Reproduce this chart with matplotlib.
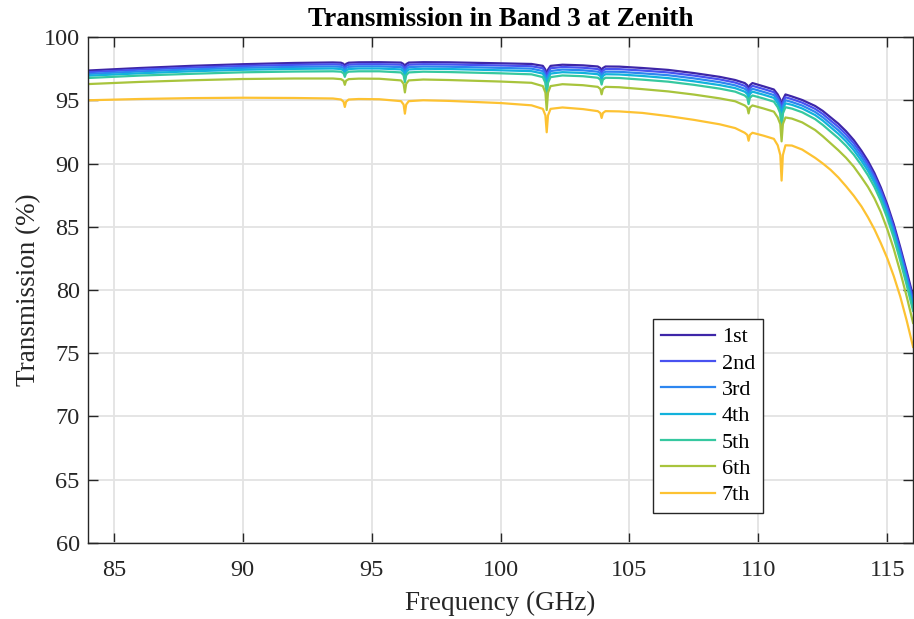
import numpy as np
import matplotlib
matplotlib.use("Agg")
import matplotlib.pyplot as plt

# frequency grid (GHz), denser around the absorption lines and the band edge
freq = [84.0, 86.0, 88.0, 90.0, 92.0, 93.5,
        93.81, 93.91, 93.96, 94.01, 94.11,
        94.5, 95.3,
        96.14, 96.24, 96.29, 96.34, 96.44,
        97.0, 98.0, 100.0, 101.2,
        101.64, 101.74, 101.79, 101.84, 101.94,
        102.4, 103.2,
        103.77, 103.87, 103.92, 103.97, 104.07,
        104.6, 105.5, 106.5, 107.5, 108.5, 109.1,
        109.47, 109.57, 109.62, 109.67, 109.77,
        110.2, 110.6,
        110.75, 110.85, 110.9, 110.95, 111.05,
        111.3, 111.7,
        112.2, 112.5, 112.8, 113.1, 113.4, 113.7, 114.0, 114.25,
        114.5, 114.75, 115.0, 115.25, 115.5, 115.75, 116.0]

t1 = [97.35, 97.55, 97.72, 97.85, 97.95, 97.99,
      97.97, 97.88, 97.65, 97.88, 97.97,
      98.00, 98.01,
      97.98, 97.86, 97.57, 97.86, 97.98,
      98.01, 98.00, 97.92, 97.87,
      97.72, 97.42, 96.64, 97.42, 97.72,
      97.81, 97.76,
      97.67, 97.55, 97.26, 97.55, 97.67,
      97.66, 97.55, 97.40, 97.15, 96.85, 96.60,
      96.36, 96.19, 95.77, 96.19, 96.36,
      96.10, 95.85,
      95.46, 95.06, 94.02, 95.06, 95.46,
      95.30, 95.02,
      94.55, 94.15, 93.65, 93.15, 92.55, 91.85, 91.00, 90.20,
      89.25, 88.10, 86.75, 85.20, 83.40, 81.50, 79.50]

t2 = [97.22, 97.42, 97.58, 97.71, 97.80, 97.84,
      97.81, 97.72, 97.47, 97.72, 97.81,
      97.85, 97.85,
      97.81, 97.67, 97.31, 97.67, 97.81,
      97.85, 97.83, 97.75, 97.69,
      97.53, 97.19, 96.31, 97.19, 97.53,
      97.63, 97.57,
      97.47, 97.35, 97.02, 97.35, 97.47,
      97.46, 97.35, 97.20, 96.95, 96.65, 96.40,
      96.14, 95.97, 95.53, 95.97, 96.14,
      95.89, 95.64,
      95.24, 94.82, 93.71, 94.82, 95.24,
      95.09, 94.81,
      94.32, 93.91, 93.40, 92.90, 92.30, 91.60, 90.75, 89.95,
      89.01, 87.87, 86.52, 84.97, 83.17, 81.26, 79.25]

t3 = [97.08, 97.28, 97.44, 97.56, 97.64, 97.67,
      97.64, 97.54, 97.28, 97.54, 97.64,
      97.68, 97.68,
      97.62, 97.45, 97.03, 97.45, 97.62,
      97.67, 97.65, 97.56, 97.50,
      97.31, 96.94, 95.96, 96.94, 97.31,
      97.43, 97.37,
      97.26, 97.13, 96.79, 97.13, 97.26,
      97.25, 97.13, 96.98, 96.73, 96.43, 96.18,
      95.91, 95.74, 95.28, 95.74, 95.91,
      95.66, 95.41,
      95.00, 94.55, 93.38, 94.55, 95.00,
      94.86, 94.58,
      94.08, 93.65, 93.14, 92.63, 92.03, 91.33, 90.48, 89.69,
      88.75, 87.61, 86.26, 84.71, 82.91, 81.00, 78.98]

t4 = [96.94, 97.13, 97.29, 97.41, 97.48, 97.51,
      97.47, 97.36, 97.09, 97.36, 97.47,
      97.51, 97.51,
      97.44, 97.25, 96.76, 97.25, 97.44,
      97.49, 97.47, 97.37, 97.30,
      97.11, 96.69, 95.62, 96.69, 97.11,
      97.22, 97.16,
      97.06, 96.92, 96.56, 96.92, 97.06,
      97.04, 96.92, 96.75, 96.50, 96.20, 95.96,
      95.68, 95.50, 95.03, 95.50, 95.68,
      95.44, 95.19,
      94.76, 94.29, 93.05, 94.29, 94.76,
      94.64, 94.35,
      93.83, 93.39, 92.87, 92.35, 91.75, 91.05, 90.20, 89.42,
      88.49, 87.36, 86.01, 84.46, 82.66, 80.74, 78.70]

t5 = [96.76, 96.95, 97.09, 97.21, 97.27, 97.29,
      97.26, 97.14, 96.85, 97.14, 97.26,
      97.29, 97.29,
      97.20, 96.98, 96.43, 96.98, 97.20,
      97.26, 97.23, 97.13, 97.05,
      96.83, 96.38, 95.21, 96.38, 96.83,
      96.96, 96.90,
      96.78, 96.63, 96.24, 96.63, 96.78,
      96.76, 96.63, 96.47, 96.22, 95.92, 95.68,
      95.38, 95.19, 94.70, 95.19, 95.38,
      95.14, 94.89,
      94.45, 93.95, 92.65, 93.95, 94.45,
      94.34, 94.05,
      93.51, 93.05, 92.52, 92.00, 91.40, 90.70, 89.85, 89.07,
      88.15, 87.03, 85.68, 84.13, 82.33, 80.40, 78.35]

t6 = [96.28, 96.45, 96.58, 96.68, 96.72, 96.72,
      96.67, 96.55, 96.22, 96.55, 96.67,
      96.71, 96.70,
      96.57, 96.30, 95.62, 96.30, 96.57,
      96.64, 96.60, 96.48, 96.38,
      96.12, 95.60, 94.23, 95.60, 96.12,
      96.27, 96.19,
      96.06, 95.89, 95.47, 95.89, 96.06,
      96.03, 95.88, 95.70, 95.45, 95.15, 94.92,
      94.59, 94.42, 93.96, 94.42, 94.59,
      94.35, 94.10,
      93.64, 93.12, 91.75, 93.12, 93.64,
      93.55, 93.25,
      92.65, 92.15, 91.60, 91.05, 90.45, 89.75, 88.90, 88.15,
      87.25, 86.15, 84.80, 83.25, 81.45, 79.50, 77.40]

t7 = [95.00, 95.10, 95.17, 95.20, 95.18, 95.14,
      95.06, 94.89, 94.47, 94.89, 95.06,
      95.10, 95.08,
      94.93, 94.66, 93.94, 94.66, 94.93,
      95.00, 94.95, 94.78, 94.60,
      94.32, 93.80, 92.47, 93.80, 94.32,
      94.43, 94.30,
      94.14, 93.99, 93.60, 93.99, 94.14,
      94.12, 94.00, 93.75, 93.45, 93.10, 92.80,
      92.43, 92.26, 91.80, 92.26, 92.43,
      92.20, 91.95,
      91.44, 90.67, 88.65, 90.67, 91.44,
      91.42, 91.10,
      90.45, 90.00, 89.50, 88.90, 88.20, 87.45, 86.60, 85.75,
      84.80, 83.70, 82.50, 81.10, 79.50, 77.60, 75.50]

labels = ["1st", "2nd", "3rd", "4th", "5th", "6th", "7th"]
colors = ["#3e26a8", "#4852f0", "#2d86f0", "#12b2dc", "#36c8a0", "#a8c43c", "#fdc232"]
series = [t1, t2, t3, t4, t5, t6, t7]

plt.rcParams['font.family'] = ['Liberation Serif', 'DejaVu Serif']

fig = plt.figure(figsize=(9.14, 6.19), dpi=100)
ax = fig.add_axes([0.0963, 0.1228, 0.9027, 0.8174])

for y, lab, c in zip(series, labels, colors):
    ax.plot(freq, y, color=c, lw=1.6, label=lab)

ax.set_xlim(84, 116)
ax.set_ylim(60, 100)
ax.set_xticks(np.arange(85, 116, 5))
ax.set_yticks(np.arange(60, 101, 5))
ax.grid(True, color='#e3e3e3', lw=1.3)
ax.set_axisbelow(True)
ax.tick_params(direction='in', length=7, width=1, colors='#262626',
               top=True, right=True, labelsize=17.5)
ax.tick_params(axis='x', pad=12)
ax.tick_params(axis='y', pad=6)
for s in ax.spines.values():
    s.set_color('#262626')
    s.set_linewidth(1)

ax.set_xlabel('Frequency (GHz)', fontsize=19.5, color='#262626', labelpad=7)
ax.set_ylabel('Transmission (%)', fontsize=19.5, color='#262626', labelpad=2)
ax.set_title('Transmission in Band 3 at Zenith', fontsize=19.5, fontweight='bold', pad=8)

leg = ax.legend(loc='lower right', bbox_to_anchor=(0.818, 0.059), fontsize=16,
                fancybox=False, framealpha=1, edgecolor='#262626',
                handlelength=2.45, labelspacing=0.26, borderpad=0.35,
                handletextpad=0.3, borderaxespad=0)
leg.get_frame().set_linewidth(1)

fig.savefig('out.png', dpi=100)
